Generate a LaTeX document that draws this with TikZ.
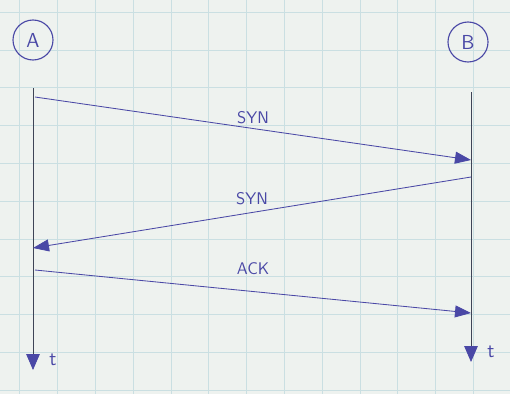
\documentclass[tikz,border=0pt]{standalone}
\usepackage{xcolor}
\usepackage{tikz}
\usetikzlibrary{positioning, arrows.meta}

\definecolor{paper}{HTML}{EEF2EF}
\definecolor{gridline}{HTML}{CADFE2}
\definecolor{ink}{HTML}{4A48A6}
\definecolor{pencil}{HTML}{3E4456}

\begin{document}
\begin{tikzpicture}[x=0.025cm, y=-0.025cm,
    host/.style={draw=ink, circle, thick, minimum size=1cm, inner sep=0pt,
                 font=\Large\sffamily, text=ink},
    timeline/.style={draw=pencil, semithick,
                     -{Triangle[length=0.4cm, width=0.34cm, color=ink]}},
    msg/.style={draw=ink, semithick,
                -{Triangle[length=0.4cm, width=0.3cm]}},
    lbl/.style={font=\large\sffamily, text=ink, inner sep=1pt},
]
\useasboundingbox (0,0) rectangle (510,394);

% --- Graph paper ---
\fill[paper] (0,0) rectangle (510,394);
\foreach \gx in {0,...,13}
    \draw[gridline] (19.6+37.8*\gx,0) -- ++(0,394);
\foreach \gy in {0,...,10}
    \draw[gridline] (0,12+37.8*\gy) -- ++(510,0);

% --- Hosts ---
\node[host] (A) at (33,40) {A};
\node[host] (B) at (468,42) {B};

% --- Time lines ---
\coordinate (a_top) at (33,88);
\coordinate (a_end) at (33,370);
\coordinate (b_top) at (471,92);
\coordinate (b_end) at (471,362);
\draw[timeline] (a_top) -- (a_end);
\draw[timeline] (b_top) -- (b_end);
\node[lbl, font=\Large\sffamily] (ta) at (53,360) {t};
\node[lbl, font=\Large\sffamily] (tb) at (491,352) {t};

% --- Handshake ---
\coordinate (syn1_s) at (35,97);
\coordinate (syn1_e) at (471,160);
\coordinate (syn2_s) at (471,177);
\coordinate (syn2_e) at (33,248);
\coordinate (ack_s) at (35,270);
\coordinate (ack_e) at (471,313);

\draw[msg] (syn1_s) -- node[lbl, above=2pt] (syn1) {SYN} (syn1_e);
\draw[msg] (syn2_s) -- node[lbl, above=4pt] (syn2) {SYN} (syn2_e);
\draw[msg] (ack_s) -- node[lbl, above=11pt] (ack) {ACK} (ack_e);
\end{tikzpicture}
\end{document}
